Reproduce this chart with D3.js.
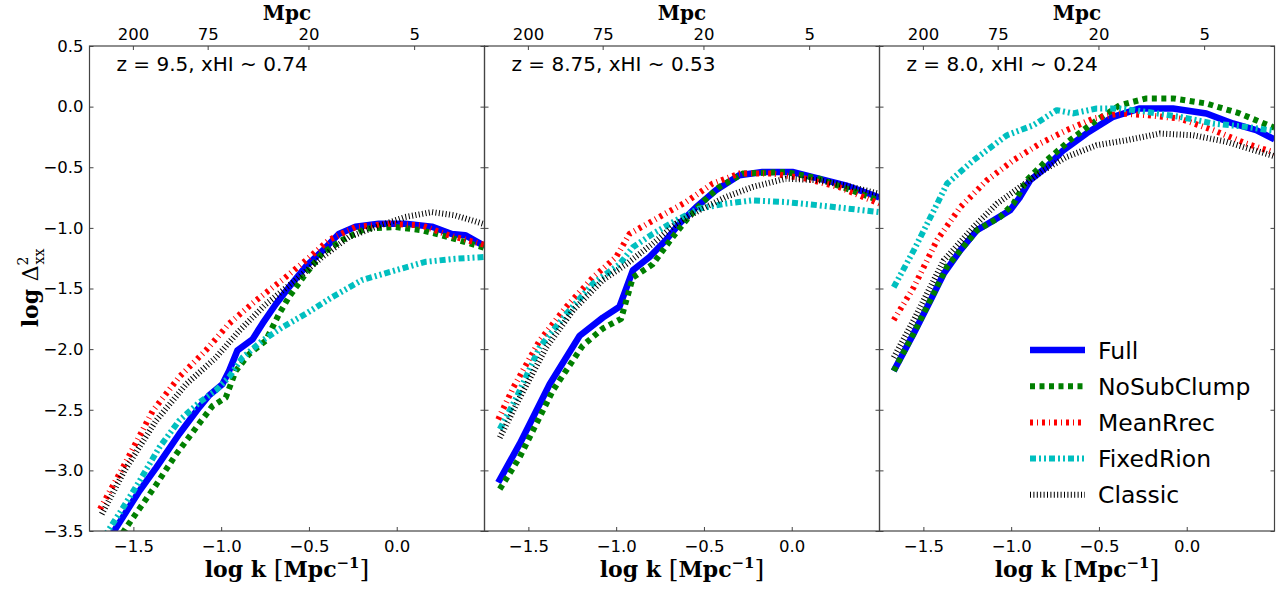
<!DOCTYPE html>
<html>
<head>
<meta charset="utf-8">
<script src="https://cdn.jsdelivr.net/npm/d3@7"></script>
<style>
  body { margin: 0; background: #fff; }
  text { font-family: "DejaVu Sans", sans-serif; fill: #000; }
  .serif { font-family: "DejaVu Serif", serif; font-weight: bold; }
</style>
</head>
<body>
<svg width="1280" height="594"></svg>
<script>
// ---- data: [log k, log Delta^2] ----
const panelTitles = ["z = 9.5, xHI ~ 0.74", "z = 8.75, xHI ~ 0.53", "z = 8.0, xHI ~ 0.24"];
const seriesNames = ["Full", "NoSubClump", "MeanRrec", "FixedRion", "Classic"];
const bottomTicks = [-1.5, -1.0, -0.5, 0.0];
const yTicks = [0.5, 0.0, -0.5, -1.0, -1.5, -2.0, -2.5, -3.0, -3.5];
const mpcTicks = [200, 75, 20, 5];

// z = 9.5
const full95 = [[-1.68,-3.66],[-1.61,-3.50],[-1.466,-3.17],[-1.371,-2.98],[-1.239,-2.70],[-1.125,-2.48],[-1.068,-2.38],[-0.993,-2.29],[-0.955,-2.18],[-0.907,-2.01],[-0.822,-1.92],[-0.765,-1.79],[-0.689,-1.63],[-0.614,-1.49],[-0.519,-1.32],[-0.424,-1.19],[-0.33,-1.05],[-0.235,-0.99],[-0.102,-0.965],[0.049,-0.965],[0.2,-0.99],[0.314,-1.05],[0.39,-1.06],[0.5,-1.15]];
const noSub95 = [[-1.68,-3.78],[-1.54,-3.47],[-1.371,-3.12],[-1.258,-2.87],[-1.144,-2.65],[-1.05,-2.47],[-0.974,-2.40],[-0.917,-2.18],[-0.84,-2.04],[-0.746,-1.93],[-0.67,-1.71],[-0.614,-1.57],[-0.519,-1.38],[-0.425,-1.21],[-0.31,-1.10],[-0.178,-1.007],[-0.007,-0.993],[0.144,-1.02],[0.295,-1.076],[0.5,-1.165]];
const meanR95 = [[-1.69,-3.32],[-1.55,-2.95],[-1.39,-2.51],[-1.239,-2.23],[-1.087,-2.01],[-0.955,-1.79],[-0.803,-1.60],[-0.652,-1.43],[-0.519,-1.27],[-0.386,-1.10],[-0.235,-0.993],[-0.045,-0.965],[0.144,-0.98],[0.295,-1.06],[0.5,-1.14]];
const fixedR95 = [[-1.68,-3.58],[-1.56,-3.31],[-1.466,-3.09],[-1.352,-2.81],[-1.239,-2.59],[-1.125,-2.44],[-1.03,-2.34],[-0.955,-2.23],[-0.879,-2.07],[-0.765,-1.93],[-0.652,-1.82],[-0.519,-1.71],[-0.367,-1.57],[-0.197,-1.43],[-0.007,-1.35],[0.163,-1.28],[0.333,-1.255],[0.5,-1.24]];
const classic95 = [[-1.68,-3.36],[-1.55,-3.00],[-1.371,-2.59],[-1.2,-2.29],[-1.03,-2.07],[-0.898,-1.85],[-0.746,-1.63],[-0.576,-1.43],[-0.424,-1.24],[-0.273,-1.076],[-0.121,-0.993],[0.049,-0.91],[0.2,-0.87],[0.333,-0.897],[0.5,-0.97]];

// z = 8.75
const full875 = [[-1.672,-3.10],[-1.549,-2.78],[-1.379,-2.29],[-1.208,-1.89],[-1.076,-1.74],[-0.981,-1.65],[-0.905,-1.35],[-0.81,-1.24],[-0.716,-1.10],[-0.64,-0.965],[-0.545,-0.83],[-0.432,-0.69],[-0.299,-0.566],[-0.167,-0.539],[0.004,-0.539],[0.155,-0.594],[0.307,-0.649],[0.5,-0.75]];
const noSub875 = [[-1.663,-3.155],[-1.549,-2.89],[-1.36,-2.34],[-1.19,-1.97],[-1.076,-1.83],[-0.972,-1.75],[-0.905,-1.41],[-0.792,-1.30],[-0.678,-1.076],[-0.602,-0.938],[-0.507,-0.787],[-0.413,-0.663],[-0.28,-0.552],[-0.034,-0.539],[0.155,-0.594],[0.5,-0.775]];
const meanR875 = [[-1.672,-2.58],[-1.587,-2.32],[-1.436,-1.93],[-1.284,-1.65],[-1.133,-1.41],[-1.0,-1.24],[-0.924,-1.05],[-0.754,-0.91],[-0.602,-0.787],[-0.451,-0.635],[-0.299,-0.552],[-0.11,-0.552],[0.08,-0.594],[0.269,-0.663],[0.5,-0.80]];
const fixedR875 = [[-1.663,-2.66],[-1.568,-2.40],[-1.436,-1.985],[-1.284,-1.71],[-1.133,-1.46],[-0.981,-1.30],[-0.905,-1.16],[-0.792,-1.05],[-0.659,-0.938],[-0.527,-0.841],[-0.375,-0.80],[-0.223,-0.773],[-0.034,-0.787],[0.155,-0.814],[0.5,-0.87]];
const classic875 = [[-1.663,-2.73],[-1.549,-2.40],[-1.398,-1.985],[-1.246,-1.68],[-1.076,-1.43],[-0.943,-1.30],[-0.792,-1.13],[-0.659,-0.965],[-0.527,-0.855],[-0.375,-0.745],[-0.223,-0.663],[-0.034,-0.594],[0.155,-0.607],[0.345,-0.663],[0.5,-0.72]];

// z = 8.0
const full80 = [[-1.669,-2.18],[-1.555,-1.87],[-1.46,-1.60],[-1.385,-1.38],[-1.29,-1.186],[-1.195,-1.02],[-1.10,-0.938],[-1.006,-0.855],[-0.949,-0.745],[-0.892,-0.607],[-0.797,-0.497],[-0.703,-0.36],[-0.57,-0.22],[-0.419,-0.084],[-0.267,-0.015],[-0.078,-0.015],[0.112,-0.056],[0.263,-0.139],[0.396,-0.194],[0.5,-0.27]];
const noSub80 = [[-1.669,-2.18],[-1.555,-1.87],[-1.365,-1.32],[-1.195,-1.02],[-1.062,-0.91],[-0.987,-0.80],[-0.911,-0.607],[-0.797,-0.442],[-0.665,-0.277],[-0.513,-0.112],[-0.381,0.012],[-0.229,0.068],[-0.078,0.068],[0.112,0.026],[0.301,-0.056],[0.5,-0.175]];
const meanR80 = [[-1.669,-1.76],[-1.555,-1.49],[-1.422,-1.10],[-1.29,-0.83],[-1.138,-0.607],[-0.987,-0.442],[-0.835,-0.304],[-0.684,-0.194],[-0.532,-0.098],[-0.381,-0.056],[-0.229,-0.07],[-0.04,-0.098],[0.15,-0.194],[0.339,-0.304],[0.5,-0.38]];
const fixedR80 = [[-1.669,-1.49],[-1.555,-1.186],[-1.44,-0.855],[-1.365,-0.635],[-1.214,-0.442],[-1.024,-0.236],[-0.873,-0.153],[-0.74,-0.029],[-0.646,-0.056],[-0.513,-0.015],[-0.381,-0.015],[-0.229,-0.043],[-0.04,-0.084],[0.15,-0.139],[0.339,-0.167],[0.5,-0.20]];
const classic80 = [[-1.669,-2.07],[-1.555,-1.76],[-1.385,-1.27],[-1.214,-0.993],[-1.081,-0.80],[-0.949,-0.663],[-0.816,-0.525],[-0.684,-0.415],[-0.513,-0.318],[-0.343,-0.277],[-0.153,-0.222],[0.036,-0.236],[0.226,-0.29],[0.5,-0.41]];

const panelData = [
  [full95, noSub95, meanR95, fixedR95, classic95],
  [full875, noSub875, meanR875, fixedR875, classic875],
  [full80, noSub80, meanR80, fixedR80, classic80]
];

// line styles per series
const styles = [
  { color: "#0000ff", width: 6.5, dash: null },
  { color: "#007f00", width: 6, dash: "5,4.5" },
  { color: "#ff0000", width: 6, dash: "3,4,1,4" },
  { color: "#00bfbf", width: 6, dash: "6,3,2,3,2,3" },
  { color: "#000000", width: 6, dash: "1,2.4" }
];

const svg = d3.select("svg");
const plotTop = 46, plotBottom = 531, panelW = 395;
const lefts = [89.5, 484.5, 879.5];

const y = d3.scaleLinear().domain([-3.5, 0.5]).range([plotBottom, plotTop]);

lefts.forEach((left, p) => {
  const x = d3.scaleLinear().domain([-1.75, 0.5]).range([left, left + panelW]);
  const g = svg.append("g");

  g.append("clipPath").attr("id", "clip" + p)
    .append("rect")
    .attr("x", left).attr("y", plotTop)
    .attr("width", panelW).attr("height", plotBottom - plotTop);

  const line = d3.line().x(d => x(d[0])).y(d => y(d[1]));
  const lines = g.append("g").attr("clip-path", `url(#clip${p})`);
  panelData[p].forEach((series, i) => {
    const s = styles[i];
    lines.append("path")
      .datum(series)
      .attr("d", line)
      .attr("fill", "none")
      .attr("stroke", s.color)
      .attr("stroke-width", s.width)
      .attr("stroke-linejoin", "round")
      .attr("stroke-dasharray", s.dash);
  });

  // bottom axis (ticks inside)
  const xAxis = d3.axisBottom(x).tickValues(bottomTicks)
    .tickSizeInner(-4).tickSizeOuter(0).tickPadding(9)
    .tickFormat(d => d3.format(".1f")(d).replace("-", "\u2212"));
  const gx = g.append("g").attr("transform", `translate(0,${plotBottom})`).call(xAxis);
  gx.select(".domain").remove();
  gx.selectAll("line").attr("stroke", "#444");
  gx.selectAll("text").style("font-size", "16.5px").attr("fill", "#000");

  // top axis in Mpc: log k = log10(2 pi / L)
  const topAxis = d3.axisTop(x).tickValues(mpcTicks.map(L => Math.log10(2 * Math.PI / L)))
    .tickSizeInner(-4).tickSizeOuter(0).tickPadding(6)
    .tickFormat((d, i) => mpcTicks[i]);
  const gt = g.append("g").attr("transform", `translate(0,${plotTop})`).call(topAxis);
  gt.select(".domain").remove();
  gt.selectAll("line").attr("stroke", "#444");
  gt.selectAll("text").style("font-size", "16.5px").attr("fill", "#000");

  // y ticks on both sides
  const yl = d3.axisLeft(y).tickValues(yTicks).tickSizeInner(-4).tickSizeOuter(0).tickPadding(6)
    .tickFormat(d => p === 0 ? d3.format(".1f")(d).replace("-", "\u2212") : "");
  const gyl = g.append("g").attr("transform", `translate(${left},0)`).call(yl);
  gyl.select(".domain").remove();
  gyl.selectAll("line").attr("stroke", "#444");
  gyl.selectAll("text").style("font-size", "16.5px").attr("fill", "#000");
  const yr = d3.axisRight(y).tickValues(yTicks).tickSizeInner(-4).tickSizeOuter(0).tickFormat("");
  const gyr = g.append("g").attr("transform", `translate(${left + panelW},0)`).call(yr);
  gyr.select(".domain").remove();
  gyr.selectAll("line").attr("stroke", "#444");

  // frame
  g.append("rect")
    .attr("x", left).attr("y", plotTop)
    .attr("width", panelW).attr("height", plotBottom - plotTop)
    .attr("fill", "none").attr("stroke", "#444").attr("stroke-width", 1.2);

  // annotation
  g.append("text")
    .attr("x", left + 27).attr("y", 71)
    .style("font-size", "20px")
    .text(panelTitles[p]);

  // top label
  g.append("text").attr("class", "serif")
    .attr("x", left + panelW / 2).attr("y", 19.5)
    .attr("text-anchor", "middle")
    .style("font-size", "20px")
    .text("Mpc");

  // bottom label
  const xl = g.append("text").attr("class", "serif")
    .attr("x", left + panelW / 2).attr("y", 577)
    .attr("text-anchor", "middle")
    .style("font-size", "22px");
  xl.append("tspan").text("log k ");
  xl.append("tspan").style("font-weight", "normal").style("font-size", "25px").text("[");
  xl.append("tspan").text("Mpc");
  xl.append("tspan").attr("dy", -9).style("font-size", "15px").text("\u22121");
  xl.append("tspan").attr("dy", 9).style("font-weight", "normal").style("font-size", "25px").text("]");
});

// y label
const ylab = svg.append("text").attr("class", "serif")
  .attr("transform", "translate(38,288) rotate(-90)")
  .attr("text-anchor", "middle")
  .style("font-size", "22px");
ylab.append("tspan").text("log ");
ylab.append("tspan").style("font-weight", "normal").text("\u0394");
ylab.append("tspan").attr("dy", -10).style("font-size", "14px").style("font-weight", "normal").text("2");
ylab.append("tspan").attr("dx", -8).attr("dy", 16).style("font-size", "14px").style("font-weight", "normal").text("xx");

// legend in the third panel
const legend = svg.append("g");
seriesNames.forEach((name, i) => {
  const ly = 350 + i * 36.2;
  const s = styles[i];
  legend.append("line")
    .attr("x1", 1030).attr("x2", 1085).attr("y1", ly).attr("y2", ly)
    .attr("stroke", s.color).attr("stroke-width", s.width)
    .attr("stroke-dasharray", s.dash);
  legend.append("text")
    .attr("x", 1098).attr("y", ly + 8.5)
    .style("font-size", "23.5px")
    .text(name);
});
</script>
</body>
</html>
